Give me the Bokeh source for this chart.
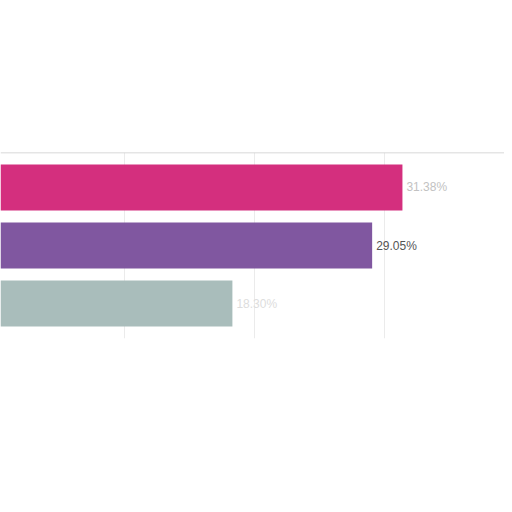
from bokeh.plotting import figure
from bokeh.models import ColumnDataSource, Range1d, Grid, FixedTicker, Span
from bokeh.core.properties import value
from bokeh.embed import file_html
from bokeh.resources import INLINE

# data
categories = ["Category A", "Category B", "Category C"]
shares = [31.38, 29.05, 18.30]
share_labels = ["31.38%", "29.05%", "18.30%"]
bar_colors = ["#d42f7e", "#8057a0", "#a9bdbb"]
label_colors = ["#c2c2c2", "#555555", "#dddddd"]
grid_ticks = [10, 20, 30]

idx = list(range(len(categories)))
src = ColumnDataSource(dict(cat=categories, y=idx, v=shares, lab=share_labels,
                            col=bar_colors, lcol=label_colors))

p = figure(width=504, height=504, output_backend="svg", toolbar_location=None,
           x_range=Range1d(6 / 13, 510 / 13), y_range=Range1d(2.603, -0.603),
           x_axis_location=None, y_axis_location=None,
           min_border_left=0, min_border_right=0, min_border_top=152, min_border_bottom=166)
p.outline_line_color = None
p.background_fill_color = "white"
p.border_fill_color = "white"
for g in list(p.grid):
    g.visible = False

p.add_layout(Grid(dimension=0, ticker=FixedTicker(ticks=grid_ticks),
                  grid_line_color="#ebebeb", grid_line_width=1))

p.add_layout(Span(location=-0.603, dimension="width", line_color="#cccccc", line_width=1.5))

p.hbar(y="y", right="v", left=0, height=0.793, fill_color="col", line_color=None, source=src)

p.text(x="v", y="y", text="lab", x_offset=4, text_baseline="middle", text_align="left",
       text_font=value("Liberation Sans"), text_font_size="12px", text_color="lcol", source=src)

open("out.html", "w").write(file_html(p, INLINE))
